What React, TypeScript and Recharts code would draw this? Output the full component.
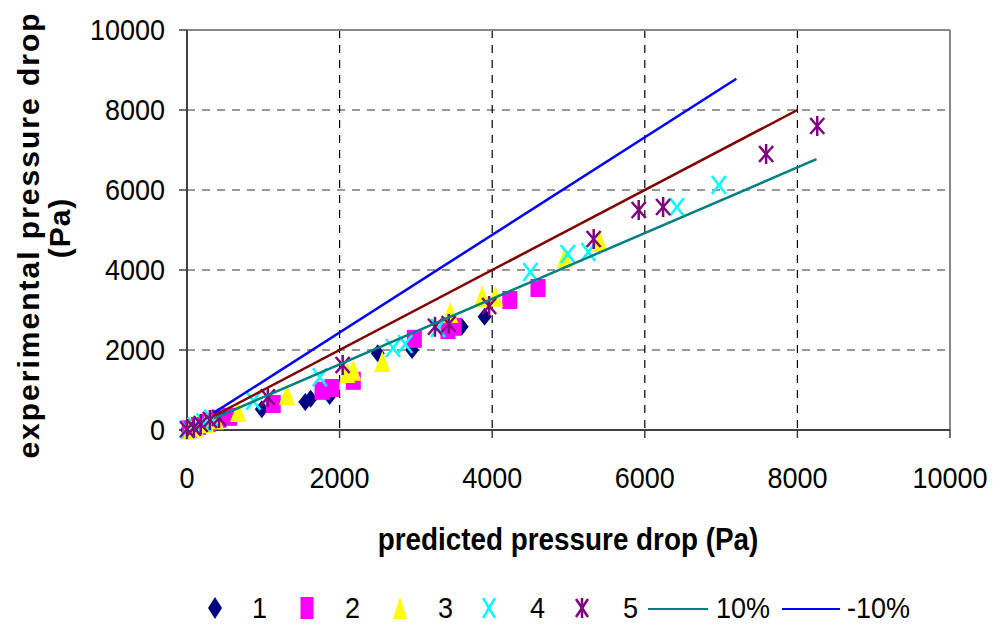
import { ScatterChart, Scatter, XAxis, YAxis, CartesianGrid, ReferenceLine, Legend } from "recharts";

const axisTicks = [0, 2000, 4000, 6000, 8000, 10000];

const series1 = [
  [0, 0], [80, 50], [200, 120], [330, 230], [470, 270], [980, 520], [1550, 700], [1620, 780],
  [1870, 850], [2500, 1920], [2950, 2000], [3600, 2580], [3900, 2830],
];
const series2 = [
  [30, 20], [150, 100], [280, 180], [420, 280], [560, 330], [1130, 650], [1770, 980], [1900, 1050],
  [2180, 1230], [2980, 2280], [3420, 2500], [3500, 2580], [4230, 3250], [4600, 3550],
];
const series3 = [
  [20, 10], [120, 80], [250, 170], [380, 260], [670, 450], [1310, 875], [2100, 1425], [2180, 1480],
  [2560, 1700], [3450, 2925], [3870, 3330], [4040, 3330], [4950, 4300], [5410, 4700],
];
const series4 = [
  [10, 10], [100, 90], [220, 190], [320, 280], [870, 730], [1740, 1320], [2700, 2050], [2860, 2150],
  [3290, 2550], [4500, 3950], [4990, 4400], [5260, 4450], [6420, 5575], [6970, 6125],
];
const series5 = [
  [0, 20], [90, 60], [180, 150], [300, 250], [420, 300], [1060, 820], [2040, 1625], [3250, 2580],
  [3430, 2650], [3960, 3100], [5330, 4775], [5920, 5500], [6240, 5575], [7590, 6900], [8260, 7600],
];
const parityLine = [[350, 350], [8000, 8000]];
const plus10Line = [[350, 287], [8250, 6770]];
const minus10Line = [[350, 427], [7200, 8780]];

const toPoints = (arr: number[][]) => arr.map(([x, y]) => ({ x, y }));

const FONT = "'Liberation Sans', Arial, sans-serif";

const Diamond = ({ cx, cy }: any) => (
  <polygon points={`${cx},${cy - 9} ${cx + 7},${cy} ${cx},${cy + 9} ${cx - 7},${cy}`} fill="#000080" />
);
const Square = ({ cx, cy }: any) => <rect x={cx - 7.5} y={cy - 9} width={15} height={18} fill="#FF00FF" />;
const Triangle = ({ cx, cy }: any) => (
  <polygon points={`${cx},${cy - 11} ${cx + 8},${cy + 10} ${cx - 8},${cy + 10}`} fill="#FFFF00" />
);
const Cross = ({ cx, cy }: any) => (
  <g stroke="#00FFFF" strokeWidth={2.5}>
    <line x1={cx - 7} y1={cy - 9} x2={cx + 7} y2={cy + 9} />
    <line x1={cx + 7} y1={cy - 9} x2={cx - 7} y2={cy + 9} />
  </g>
);
const Star = ({ cx, cy }: any) => (
  <g stroke="#800080" strokeWidth={2.5}>
    <line x1={cx - 7} y1={cy - 8} x2={cx + 7} y2={cy + 8} />
    <line x1={cx + 7} y1={cy - 8} x2={cx - 7} y2={cy + 8} />
    <line x1={cx} y1={cy - 10} x2={cx} y2={cy + 10} />
  </g>
);
const NoDot = () => <g />;

// labels in the original look a little narrow and tall, so squeeze them
const XTick = ({ x, y, payload }: any) => (
  <text transform={`translate(${x},${y + 48}) scale(0.9,1)`} textAnchor="middle" fontSize={30} fontFamily={FONT} fill="#000">
    {payload.value}
  </text>
);
const YTick = ({ x, y, payload }: any) => (
  <text transform={`translate(${x - 12},${y + 10}) scale(0.9,1)`} textAnchor="end" fontSize={30} fontFamily={FONT} fill="#000">
    {payload.value}
  </text>
);

const XTitle = () => (
  <text transform="translate(568,550) scale(0.87,1)" textAnchor="middle" fontSize={32} fontWeight="bold" fontFamily={FONT} fill="#000">
    predicted pressure drop (Pa)
  </text>
);
const YTitle = () => (
  <g fontFamily={FONT} fontWeight="bold" fill="#000" textAnchor="middle">
    <text transform="translate(39,235) rotate(-90)" fontSize={30} letterSpacing={2}>
      experimental pressure drop
    </text>
    <text transform="translate(70,228) rotate(-90)" fontSize={30} letterSpacing={1}>
      (Pa)
    </text>
  </g>
);

const legendItems = [
  { label: "1", center: 215, textLeft: 252, kind: "diamond" },
  { label: "2", center: 307, textLeft: 345, kind: "square" },
  { label: "3", center: 400, textLeft: 438, kind: "triangle" },
  { label: "4", center: 489, textLeft: 530, kind: "cross" },
  { label: "5", center: 582, textLeft: 623, kind: "star" },
];

const LegendMarker = ({ kind }: { kind: string }) => {
  const w = 20, h = 26, cx = 10, cy = 13;
  let el: any = null;
  if (kind === "diamond") el = <polygon points={`${cx},${cy - 11} ${cx + 7},${cy} ${cx},${cy + 11} ${cx - 7},${cy}`} fill="#000080" />;
  if (kind === "square") el = <rect x={cx - 6.5} y={cy - 11} width={13} height={22} fill="#FF00FF" />;
  if (kind === "triangle") el = <polygon points={`${cx},${cy - 11} ${cx + 7},${cy + 11} ${cx - 7},${cy + 11}`} fill="#FFFF00" />;
  if (kind === "cross")
    el = (
      <g stroke="#00FFFF" strokeWidth={2.5}>
        <line x1={cx - 6} y1={cy - 10} x2={cx + 6} y2={cy + 10} />
        <line x1={cx + 6} y1={cy - 10} x2={cx - 6} y2={cy + 10} />
      </g>
    );
  if (kind === "star")
    el = (
      <g stroke="#800080" strokeWidth={2.5}>
        <line x1={cx - 6} y1={cy - 9} x2={cx + 6} y2={cy + 9} />
        <line x1={cx + 6} y1={cy - 9} x2={cx - 6} y2={cy + 9} />
        <line x1={cx} y1={cy - 10} x2={cx} y2={cy + 10} />
      </g>
    );
  return (
    <svg width={w} height={h} style={{ display: "block" }}>
      {el}
    </svg>
  );
};

const textStyle: any = {
  position: "absolute",
  top: 0,
  fontSize: 30,
  lineHeight: "36px",
  fontFamily: FONT,
  color: "#000",
  transform: "scaleX(0.9)",
  transformOrigin: "left center",
  whiteSpace: "nowrap",
};

const ChartLegend = () => (
  <div style={{ position: "relative", width: 993, height: 36 }}>
    {legendItems.map((it) => (
      <div key={it.label}>
        <div style={{ position: "absolute", left: it.center - 10, top: 5 }}>
          <LegendMarker kind={it.kind} />
        </div>
        <div style={{ ...textStyle, left: it.textLeft }}>{it.label}</div>
      </div>
    ))}
    <div style={{ position: "absolute", left: 648, top: 18, width: 60, height: 0, borderTop: "2.5px solid #008080" }} />
    <div style={{ ...textStyle, left: 716 }}>10%</div>
    <div style={{ position: "absolute", left: 782, top: 18, width: 58, height: 0, borderTop: "2.5px solid #0000FF" }} />
    <div style={{ ...textStyle, left: 847 }}>-10%</div>
  </div>
);

export default function App() {
  return (
    <div style={{ width: 993, height: 626, position: "relative" }}>
      <style>{`body{margin:0}`}</style>
      <ScatterChart width={993} height={626} margin={{ top: 30, right: 43, bottom: 166, left: 0 }}>
        <CartesianGrid horizontal={true} vertical={false} stroke="#777" strokeDasharray="8 7" strokeWidth={1.5} />
        <CartesianGrid horizontal={false} vertical={true} stroke="#000" strokeDasharray="8 7" strokeWidth={1.2} />
        <XAxis
          type="number"
          dataKey="x"
          domain={[0, 10000]}
          ticks={axisTicks}
          height={30}
          tickSize={8}
          axisLine={{ stroke: "#404040", strokeWidth: 2 }}
          tickLine={{ stroke: "#404040", strokeWidth: 1.5 }}
          tick={<XTick />}
          label={{ content: () => <XTitle /> }}
        />
        <YAxis
          type="number"
          dataKey="y"
          domain={[0, 10000]}
          ticks={axisTicks}
          width={187}
          tickSize={8}
          axisLine={{ stroke: "#404040", strokeWidth: 2 }}
          tickLine={{ stroke: "#404040", strokeWidth: 1.5 }}
          tick={<YTick />}
          label={{ content: () => <YTitle /> }}
        />
        <ReferenceLine x={10000} stroke="#888" strokeWidth={2} />
        <ReferenceLine y={10000} stroke="#888" strokeWidth={2} />
        <Scatter name="1" data={toPoints(series1)} shape={<Diamond />} isAnimationActive={false} />
        <Scatter name="2" data={toPoints(series2)} shape={<Square />} isAnimationActive={false} />
        <Scatter name="3" data={toPoints(series3)} shape={<Triangle />} isAnimationActive={false} />
        <Scatter name="4" data={toPoints(series4)} shape={<Cross />} isAnimationActive={false} />
        <Scatter name="5" data={toPoints(series5)} shape={<Star />} isAnimationActive={false} />
        <Scatter name="parity" data={toPoints(parityLine)} line={{ stroke: "#800000", strokeWidth: 2.5 }} shape={<NoDot />} isAnimationActive={false} />
        <Scatter name="10%" data={toPoints(plus10Line)} line={{ stroke: "#008080", strokeWidth: 2.5 }} shape={<NoDot />} isAnimationActive={false} />
        <Scatter name="-10%" data={toPoints(minus10Line)} line={{ stroke: "#0000FF", strokeWidth: 2.5 }} shape={<NoDot />} isAnimationActive={false} />
        <Legend
          layout="horizontal"
          verticalAlign="middle"
          align="center"
          wrapperStyle={{ top: 590, left: 0, width: 993, height: 36 }}
          content={() => <ChartLegend />}
        />
      </ScatterChart>
    </div>
  );
}
